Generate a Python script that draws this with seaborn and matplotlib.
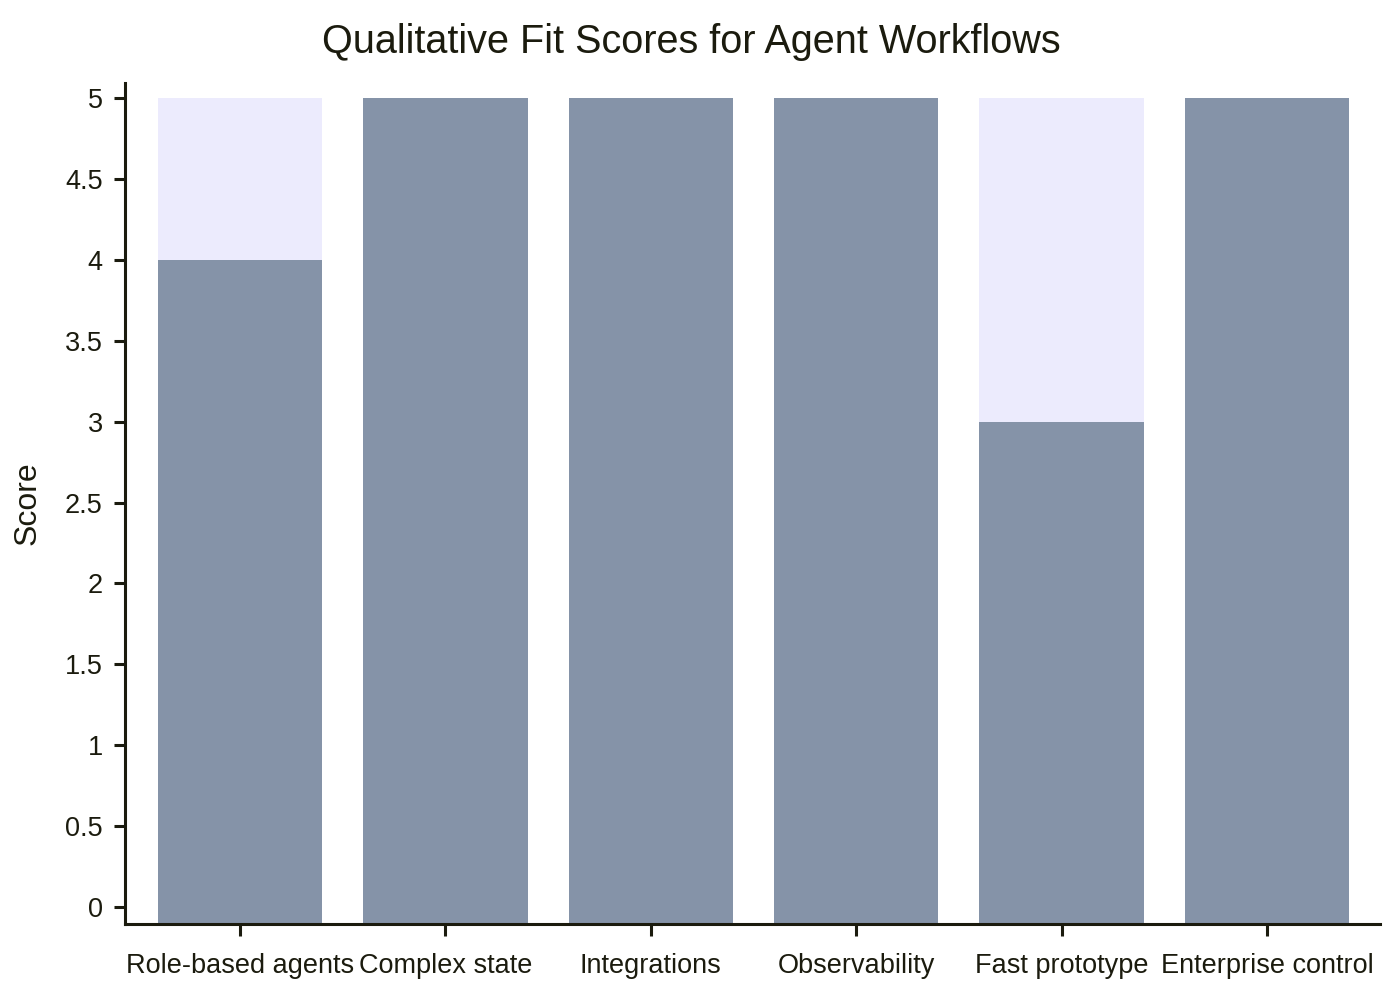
import seaborn as sns
import pandas as pd
import matplotlib.pyplot as plt
from matplotlib.ticker import MultipleLocator, FuncFormatter

# values
workflows = [
    "Role-based agents",
    "Complex state",
    "Integrations",
    "Observability",
    "Fast prototype",
    "Enterprise control",
]
fit_scores = [4, 5, 5, 5, 3, 5]
max_score = [5, 5, 5, 5, 5, 5]

df = pd.DataFrame({"workflow": workflows, "score": fit_scores, "max": max_score})

ink = "#1b1b0e"
sns.set_theme(style="ticks")
plt.rcParams["font.family"] = ["Liberation Sans", "DejaVu Sans"]
plt.rcParams["text.color"] = ink
plt.rcParams["axes.labelcolor"] = ink

fig = plt.figure(figsize=(14, 10), dpi=100)
ax = fig.add_axes([0.0893, 0.076, 0.8964, 0.841])

# background bars (max possible score), then the actual score
sns.barplot(data=df, x="workflow", y="max", color="#ECEBFD", saturation=1,
            width=0.8, ax=ax)
sns.barplot(data=df, x="workflow", y="score", color="#8593A8", saturation=1,
            width=0.8, ax=ax)

ymin, ymax = -0.105, 5.093
ax.set_ylim(ymin, ymax)
ax.set_xlim(-0.56, 5.55)

# bars run down to the bottom of the plot area like in the original
for p in ax.patches:
    top = p.get_y() + p.get_height()
    p.set_y(ymin)
    p.set_height(top - ymin)
    p.set_linewidth(0)

ax.yaxis.set_major_locator(MultipleLocator(0.5))
ax.yaxis.set_major_formatter(FuncFormatter(lambda v, _: f"{v:g}"))

sns.despine(ax=ax)
for side in ["left", "bottom"]:
    ax.spines[side].set_linewidth(2.2)
    ax.spines[side].set_color(ink)

ax.tick_params(axis="y", length=8, width=2.2, pad=8, labelsize=19.5,
               color=ink, labelcolor=ink)
ax.tick_params(axis="x", length=8.5, width=2.2, pad=12.5, labelsize=19.5,
               color=ink, labelcolor=ink)

ax.set_xlabel("")
ax.set_ylabel("Score", fontsize=23)
ax.yaxis.set_label_coords(-0.066, 0.5)

fig.suptitle("Qualitative Fit Scores for Agent Workflows", fontsize=28.5,
             x=0.494, y=0.977, color=ink)

fig.savefig("out.png", dpi=100)
